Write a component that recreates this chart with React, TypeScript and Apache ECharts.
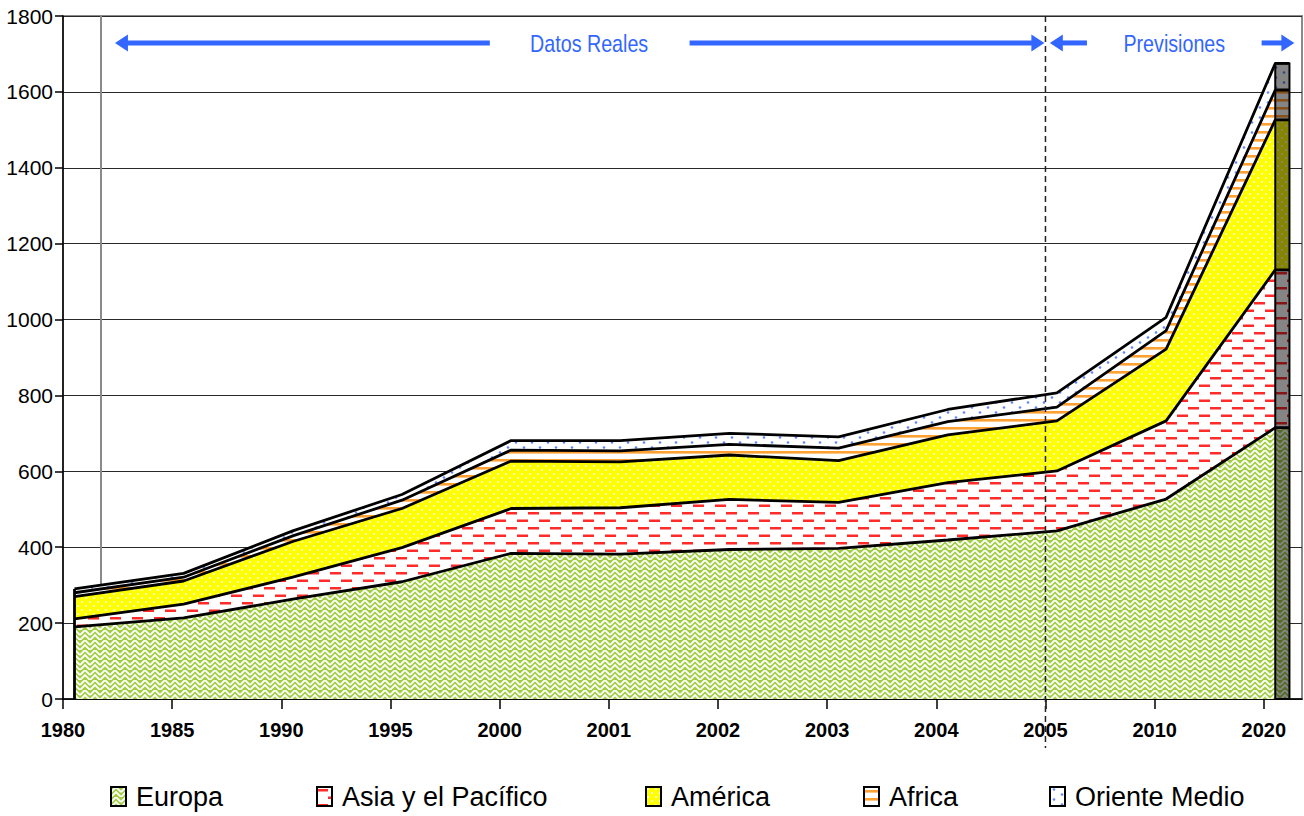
import React, { useEffect, useRef } from 'react';
import * as echarts from 'echarts';

// ---------------- data ----------------
const YEARS = ['1980', '1985', '1990', '1995', '2000', '2001', '2002', '2003', '2004', '2005', '2010', '2020'];
const SERIES_NAMES = ['Europa', 'Asia y el Pacífico', 'América', 'Africa', 'Oriente Medio'];
const EUROPA = [190, 214, 263, 309, 384, 382, 394, 397, 419, 443, 527, 715];
const ASIA = [21, 36, 58, 90, 118, 122, 132, 121, 151, 158, 206, 416];
const AMERICA = [59, 61, 94, 103, 125, 121, 117, 110, 126, 132, 189, 395];
const AFRICA = [10, 10, 15, 22, 29, 29, 28, 33, 35, 36, 49, 79];
const ORIENTE = [10, 10, 13, 15, 25, 27, 29, 30, 32, 38, 35, 70];
const Y_MIN = 0;
const Y_MAX = 1800;
const Y_STEP = 200;
const LABEL_REAL = 'Datos Reales';
const LABEL_FORECAST = 'Previsiones';

// ---------------- layout (axis units) ----------------
const X_MAX = 11.35; // right frame of the plot, in category units
const POINT_OFFSET = 0.105; // points sit slightly right of their ticks
const DEPTH = 0.13; // depth of the closing bar at the last category
const REF_LINE_X = 0.35; // grey vertical reference line
const FORECAST_X = 9; // dashed separator at 2005
const ARROW_Y = 1729;
const REAL_LEFT = [0.476, 3.91];
const REAL_TEXT_X = 4.82;
const REAL_RIGHT = [5.74, 8.99];
const FC_LEFT = [9.04, 9.38];
const FC_TEXT_X = 10.18;
const FC_RIGHT = [10.98, 11.28];

const FONT = "'Liberation Sans', Arial, sans-serif";
const BLUE = '#3366FF';

function makePattern(w: number, h: number, draw: (ctx: CanvasRenderingContext2D) => void) {
  const c = document.createElement('canvas');
  c.width = w;
  c.height = h;
  const ctx = c.getContext('2d')!;
  draw(ctx);
  return { image: c, repeat: 'repeat', imageWidth: w, imageHeight: h } as any;
}

function buildPatterns() {
  const europa = makePattern(10, 10, (ctx) => {
    ctx.fillStyle = '#A2CE44';
    ctx.fillRect(0, 0, 10, 10);
    ctx.strokeStyle = '#FFFFFF';
    ctx.lineWidth = 1.8;
    ctx.beginPath();
    ctx.moveTo(0, 5); ctx.lineTo(5, 0); ctx.lineTo(10, 5);
    ctx.moveTo(0, 10); ctx.lineTo(5, 5); ctx.lineTo(10, 10);
    ctx.stroke();
  });
  const asia = makePattern(22, 15, (ctx) => {
    ctx.fillStyle = '#FFFFFF';
    ctx.fillRect(0, 0, 22, 15);
    ctx.fillStyle = '#FF2A2A';
    ctx.fillRect(0, 2, 11, 2.5);
    ctx.fillRect(11, 9.5, 11, 2.5);
  });
  const america = makePattern(8, 8, (ctx) => {
    ctx.fillStyle = '#FFFF00';
    ctx.fillRect(0, 0, 8, 8);
    ctx.fillStyle = '#FFFFFF';
    ctx.beginPath(); ctx.arc(2, 2, 1, 0, Math.PI * 2); ctx.fill();
    ctx.beginPath(); ctx.arc(6, 6, 1, 0, Math.PI * 2); ctx.fill();
  });
  const africa = makePattern(4, 8, (ctx) => {
    ctx.fillStyle = '#FFFFFF';
    ctx.fillRect(0, 0, 4, 8);
    ctx.fillStyle = '#FFA033';
    ctx.fillRect(0, 3, 4, 2.6);
  });
  const oriente = makePattern(16, 10, (ctx) => {
    ctx.fillStyle = '#FFFFFF';
    ctx.fillRect(0, 0, 16, 10);
    ctx.fillStyle = '#5F85FF';
    ctx.beginPath(); ctx.arc(4, 2.5, 1.3, 0, Math.PI * 2); ctx.fill();
    ctx.beginPath(); ctx.arc(12, 7.5, 1.3, 0, Math.PI * 2); ctx.fill();
  });
  return [europa, asia, america, africa, oriente];
}

export default function App() {
  const ref = useRef<HTMLDivElement>(null);

  useEffect(() => {
    if (!ref.current) return;
    const chart = echarts.init(ref.current, null, { renderer: 'svg' });
    const patterns = buildPatterns();
    const layers = [EUROPA, ASIA, AMERICA, AFRICA, ORIENTE];
    const n = YEARS.length;
    // cumulative tops of each layer (stacked bottom-up)
    const cumulative: number[][] = [];
    layers.forEach((vals, k) => {
      cumulative.push(vals.map((v, i) => v + (k > 0 ? cumulative[k - 1][i] : 0)));
    });
    const totals = cumulative[layers.length - 1];
    const xOf = (i: number) => i + POINT_OFFSET;
    const lastX = xOf(n - 1);
    const idx = YEARS.map((_, i) => i);

    const legendLefts = [110, 316, 645, 863, 1049];

    const option: any = {
      animation: false,
      backgroundColor: '#ffffff',
      grid: {
        left: 63, right: 2, top: 16, bottom: 117,
        show: true, backgroundColor: '#ffffff', borderColor: '#8a8a8a', borderWidth: 2,
      },
      legend: SERIES_NAMES.map((name, k) => ({
        data: [{
          name,
          icon: 'rect',
          itemStyle: { color: patterns[k], borderColor: '#000', borderWidth: 2 },
        }],
        left: legendLefts[k],
        top: 783,
        padding: 0,
        itemWidth: 15,
        itemHeight: 19,
        selectedMode: false,
        textStyle: { fontFamily: FONT, fontSize: 27, color: '#000', padding: [0, 0, 0, 5] },
      })),
      xAxis: {
        type: 'value',
        min: 0,
        max: X_MAX,
        interval: 1,
        axisLine: { show: true, lineStyle: { color: '#000', width: 1.5 } },
        axisTick: { show: true, length: 10, lineStyle: { color: '#000', width: 1.5 }, customValues: idx },
        axisLabel: {
          customValues: idx,
          formatter: (v: number) => YEARS[Math.round(v)] ?? '',
          fontFamily: FONT, fontWeight: 'bold', fontSize: 20, color: '#000', margin: 21,
        },
        splitLine: { show: false },
      },
      yAxis: {
        type: 'value',
        min: Y_MIN,
        max: Y_MAX,
        interval: Y_STEP,
        axisLine: { show: true, lineStyle: { color: '#000', width: 1.5 } },
        axisTick: { show: true, length: 8, lineStyle: { color: '#000', width: 1.5 } },
        axisLabel: { fontFamily: FONT, fontSize: 21, color: '#000', margin: 10, formatter: (v: number) => String(v) },
        splitLine: { show: true, lineStyle: { color: '#2a2a2a', width: 1 } },
      },
      series: [
        {
          name: '__back',
          type: 'line',
          data: [],
          silent: true,
          markLine: {
            silent: true, z: 1, symbol: ['none', 'none'], label: { show: false },
            lineStyle: { color: '#8a8a8a', width: 2, type: 'solid' },
            data: [[{ coord: [REF_LINE_X, Y_MIN] }, { coord: [REF_LINE_X, Y_MAX] }]],
          },
        },
        ...cumulative.map((tops, k) => ({
          name: SERIES_NAMES[k],
          type: 'line',
          symbol: 'none',
          silent: true,
          z: 8 - k,
          data: [...tops.map((v, i) => [xOf(i), v]), [lastX + DEPTH, tops[n - 1]]],
          lineStyle: { color: '#000', width: 2.8 },
          itemStyle: { color: patterns[k] },
          areaStyle: { color: patterns[k], opacity: 1, origin: 'start' },
        })),
        {
          name: '__front',
          type: 'line',
          data: [],
          silent: true,
          markLine: {
            silent: true, z: 10, symbol: ['none', 'none'], label: { show: false },
            lineStyle: { color: '#000', width: 2.8, type: 'solid' },
            data: [[{ coord: [xOf(0), Y_MIN] }, { coord: [xOf(0), totals[0]] }]],
          },
          markArea: {
            silent: true, z: 10, label: { show: false },
            itemStyle: { color: 'rgba(0,0,0,0.48)', borderColor: '#000', borderWidth: 2 },
            data: [[{ coord: [lastX, Y_MIN] }, { coord: [lastX + DEPTH, totals[n - 1]] }]],
          },
        },
      ],
    };
    chart.setOption(option);

    const p = (x: number, y: number) => chart.convertToPixel({ xAxisIndex: 0, yAxisIndex: 0 }, [x, y]) as number[];
    const ay = p(0, ARROW_Y)[1];
    const head = 13;
    const half = 8.5;
    const shaft = 5;
    const arrow = (x1: number, x2: number, dir: 'left' | 'right') => {
      const a = p(x1, ARROW_Y)[0];
      const b = p(x2, ARROW_Y)[0];
      const els: any[] = [];
      if (dir === 'left') {
        els.push({ type: 'rect', z: 100, shape: { x: a + head - 1, y: ay - shaft / 2, width: b - a - head + 1, height: shaft }, style: { fill: BLUE } });
        els.push({ type: 'polygon', z: 100, shape: { points: [[a, ay], [a + head, ay - half], [a + head, ay + half]] }, style: { fill: BLUE } });
      } else {
        els.push({ type: 'rect', z: 100, shape: { x: a, y: ay - shaft / 2, width: b - a - head + 1, height: shaft }, style: { fill: BLUE } });
        els.push({ type: 'polygon', z: 100, shape: { points: [[b, ay], [b - head, ay - half], [b - head, ay + half]] }, style: { fill: BLUE } });
      }
      return els;
    };
    const fx = p(FORECAST_X, 0)[0];
    const topY = p(0, Y_MAX)[1];
    const baseY = p(0, Y_MIN)[1];
    const annotText = (text: string, x: number) => ({
      type: 'text', z: 100, silent: true,
      x: p(x, ARROW_Y)[0], y: ay + 1, scaleX: 0.82,
      style: { text, fill: BLUE, fontFamily: FONT, fontSize: 24, align: 'center', verticalAlign: 'middle' },
    });
    const graphic: any[] = [
      {
        type: 'line', z: 100, silent: true,
        shape: { x1: fx, y1: topY, x2: fx, y2: baseY + 49 },
        style: { stroke: '#222', lineWidth: 1.5, lineDash: [6, 4] },
      },
      ...arrow(REAL_LEFT[0], REAL_LEFT[1], 'left'),
      ...arrow(REAL_RIGHT[0], REAL_RIGHT[1], 'right'),
      ...arrow(FC_LEFT[0], FC_LEFT[1], 'left'),
      ...arrow(FC_RIGHT[0], FC_RIGHT[1], 'right'),
      annotText(LABEL_REAL, REAL_TEXT_X),
      annotText(LABEL_FORECAST, FC_TEXT_X),
    ];
    chart.setOption({ graphic });

    return () => chart.dispose();
  }, []);

  return (
    <div
      ref={ref}
      style={{ position: 'fixed', left: 0, top: 0, width: 1304, height: 816, background: '#fff' }}
    />
  );
}
